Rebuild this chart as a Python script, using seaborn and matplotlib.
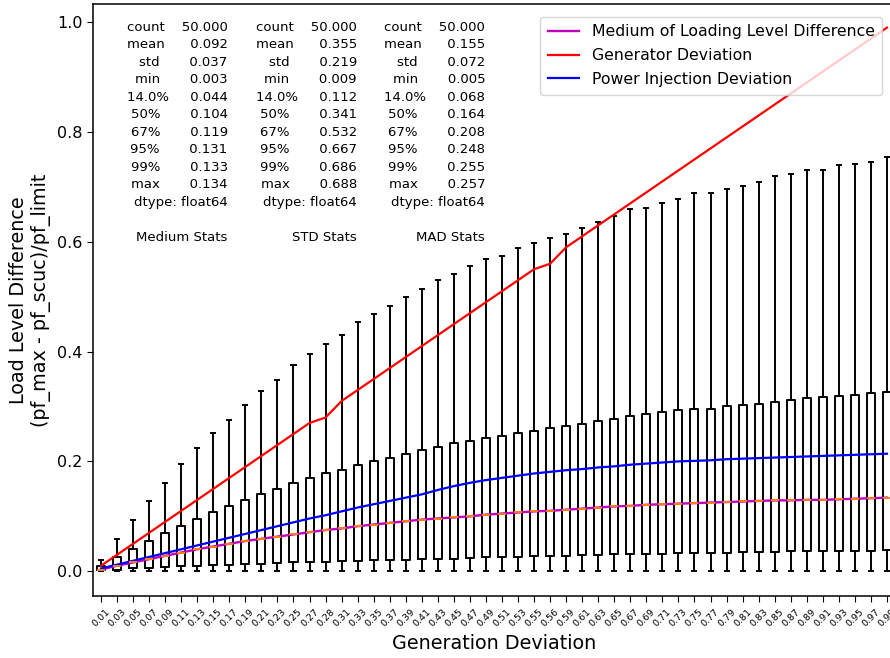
import numpy as np
import pandas as pd
import matplotlib
matplotlib.use("Agg")
import matplotlib.pyplot as plt
import seaborn as sns

# Generation deviation levels (x categories) and their tick labels
gen_dev = [0.01, 0.03, 0.05, 0.07, 0.09, 0.11, 0.13, 0.15, 0.17, 0.19,
           0.21, 0.23, 0.25, 0.27, 0.28, 0.31, 0.33, 0.35, 0.37, 0.39,
           0.41, 0.43, 0.45, 0.47, 0.49, 0.51, 0.53, 0.55, 0.56, 0.59,
           0.61, 0.63, 0.65, 0.67, 0.69, 0.71, 0.73, 0.75, 0.77, 0.79,
           0.81, 0.83, 0.85, 0.87, 0.89, 0.91, 0.93, 0.95, 0.97, 0.99]
tick_labels = [f"{v:.2f}" for v in gen_dev]

# Loading level difference distribution per deviation level
whisker_low = [0.0] * 50
q1 = [0.002, 0.003, 0.005, 0.006, 0.008, 0.009, 0.010, 0.011, 0.012, 0.013,
      0.014, 0.015, 0.016, 0.017, 0.017, 0.018, 0.019, 0.020, 0.021, 0.021,
      0.022, 0.023, 0.023, 0.024, 0.025, 0.025, 0.026, 0.027, 0.027, 0.028,
      0.029, 0.030, 0.031, 0.031, 0.032, 0.032, 0.033, 0.033, 0.034, 0.034,
      0.035, 0.035, 0.035, 0.036, 0.036, 0.036, 0.037, 0.037, 0.037, 0.038]
medians = [0.003, 0.010, 0.016, 0.022, 0.028, 0.034, 0.040, 0.045, 0.050, 0.055,
           0.059, 0.063, 0.067, 0.071, 0.075, 0.078, 0.082, 0.085, 0.088, 0.091,
           0.094, 0.096, 0.098, 0.100, 0.103, 0.105, 0.107, 0.109, 0.110, 0.112,
           0.114, 0.116, 0.118, 0.119, 0.121, 0.122, 0.123, 0.124, 0.125, 0.126,
           0.127, 0.128, 0.129, 0.129, 0.130, 0.130, 0.131, 0.132, 0.133, 0.134]
q3 = [0.010, 0.026, 0.041, 0.055, 0.070, 0.083, 0.096, 0.107, 0.118, 0.130,
      0.140, 0.149, 0.160, 0.169, 0.178, 0.185, 0.193, 0.200, 0.206, 0.213,
      0.220, 0.226, 0.233, 0.237, 0.242, 0.246, 0.252, 0.256, 0.261, 0.264,
      0.269, 0.273, 0.277, 0.282, 0.286, 0.290, 0.293, 0.296, 0.296, 0.300,
      0.303, 0.305, 0.309, 0.311, 0.315, 0.317, 0.319, 0.321, 0.324, 0.326]
whisker_high = [0.020, 0.058, 0.094, 0.128, 0.161, 0.195, 0.224, 0.251, 0.276, 0.302,
                0.328, 0.348, 0.375, 0.396, 0.413, 0.430, 0.453, 0.468, 0.483, 0.499,
                0.514, 0.530, 0.541, 0.556, 0.568, 0.574, 0.588, 0.598, 0.606, 0.614,
                0.625, 0.636, 0.647, 0.659, 0.662, 0.670, 0.678, 0.689, 0.689, 0.696,
                0.701, 0.709, 0.720, 0.723, 0.730, 0.730, 0.740, 0.741, 0.746, 0.754]

# Power injection deviation curve
power_inj_dev = [0.005, 0.012, 0.019, 0.026, 0.033, 0.040, 0.047, 0.054, 0.061, 0.068,
                 0.075, 0.082, 0.089, 0.096, 0.102, 0.109, 0.116, 0.122, 0.128, 0.134,
                 0.140, 0.148, 0.155, 0.161, 0.166, 0.170, 0.174, 0.178, 0.181, 0.184,
                 0.186, 0.189, 0.191, 0.194, 0.196, 0.198, 0.200, 0.201, 0.202, 0.204,
                 0.205, 0.206, 0.207, 0.208, 0.209, 0.210, 0.211, 0.212, 0.213, 0.214]

# Summary statistics blocks
stat_names = ["count", "mean", "std", "min", "14.0%", "50%", "67%", "95%", "99%", "max"]
medium_stats = [50.000, 0.092, 0.037, 0.003, 0.044, 0.104, 0.119, 0.131, 0.133, 0.134]
std_stats = [50.000, 0.355, 0.219, 0.009, 0.112, 0.341, 0.532, 0.667, 0.686, 0.688]
mad_stats = [50.000, 0.155, 0.072, 0.005, 0.068, 0.164, 0.208, 0.248, 0.255, 0.257]
stat_titles = ["Medium Stats", "STD Stats", "MAD Stats"]

# Long-form table for the box plot (five summary points per level)
rows = []
for lab, lo, a, m, b, hi in zip(tick_labels, whisker_low, q1, medians, q3, whisker_high):
    for v in (lo, a, m, b, hi):
        rows.append({"dev": lab, "val": v})
box_df = pd.DataFrame(rows)

fig = plt.figure(figsize=(8.9, 6.58), dpi=100)
ax = fig.add_axes([0.1045, 0.0935, 0.9011, 0.9004])

sns.boxplot(data=box_df, x="dev", y="val", order=tick_labels, ax=ax,
            whis=(0, 100), width=0.5, fill=False, color="black", linewidth=1.4,
            medianprops={"color": "#ff7f0e"})

pos = np.arange(len(gen_dev))
sns.lineplot(x=pos, y=medians, ax=ax, color="m", linewidth=1.7,
             label="Medium of Loading Level Difference", sort=False)
sns.lineplot(x=pos, y=gen_dev, ax=ax, color="r", linewidth=1.6,
             label="Generator Deviation", sort=False)
sns.lineplot(x=pos, y=power_inj_dev, ax=ax, color="b", linewidth=1.6,
             label="Power Injection Deviation", sort=False)

ax.set_xlim(-0.5, len(gen_dev) - 0.5)
ax.set_ylim(-0.046, 1.033)
ax.set_yticks([0.0, 0.2, 0.4, 0.6, 0.8, 1.0])
ax.set_xticks(pos)
ax.set_xticklabels(tick_labels, rotation=45, fontsize=6.8)
ax.tick_params(axis="y", labelsize=11.5, length=4.2)
ax.tick_params(axis="x", length=4.2)
ax.set_xlabel("Generation Deviation", fontsize=13.8)
ax.set_ylabel("Load Level Difference\n(pf_max - pf_scuc)/pf_limit", fontsize=13.8)
for s in ax.spines.values():
    s.set_linewidth(1.1)
    s.set_color("black")

ax.legend(loc="upper right", fontsize=11.3, borderaxespad=0.8,
          labelspacing=0.55, borderpad=0.5)

# Statistic text blocks in the upper left
for x_pos, vals, title in zip([0.168, 0.329, 0.489],
                              [medium_stats, std_stats, mad_stats], stat_titles):
    lines = [f"{n:<5}{v:>10.3f}" for n, v in zip(stat_names, vals)]
    txt = "\n".join(lines) + "\ndtype: float64\n\n" + title
    ax.text(x_pos, 0.972, txt, transform=ax.transAxes, ha="right", va="top",
            multialignment="right", fontsize=9.5, linespacing=1.45)

fig.savefig("out.png", dpi=100)
